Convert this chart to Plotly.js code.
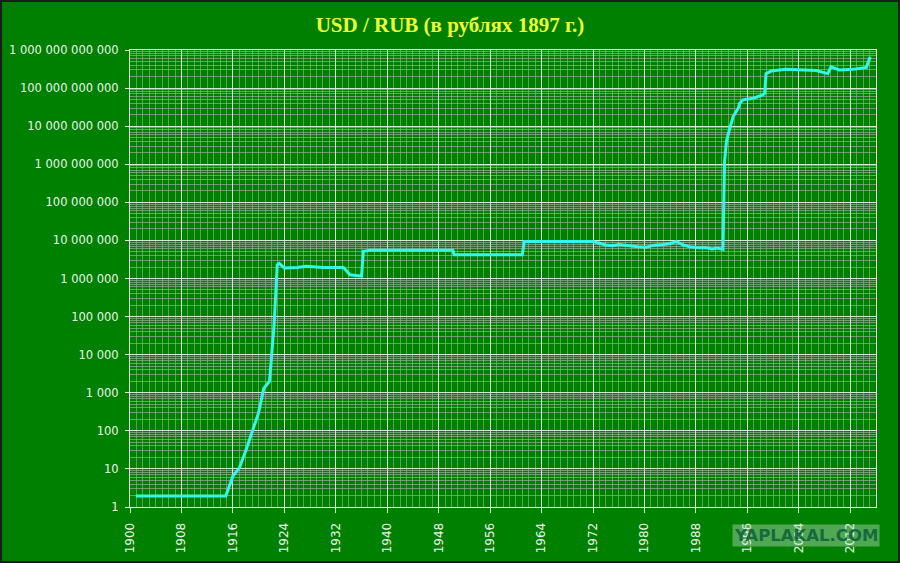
<!DOCTYPE html>
<html>
<head>
<meta charset="utf-8">
<script src="https://cdn.plot.ly/plotly-3.0.1.min.js"></script>
<style>
  html, body { margin: 0; padding: 0; background: #008000; }
  #wrap { position: relative; width: 900px; height: 563px; }
  #chart { width: 900px; height: 563px; }
  #frame { position: absolute; left: 0; top: 0; width: 900px; height: 563px; box-sizing: border-box; border: 2px solid #1c1c1c; pointer-events: none; }
</style>
</head>
<body>
<div id="wrap">
  <div id="chart"></div>
  <div id="frame"></div>
</div>
<script>
// Years (fractional) and USD/RUB rate expressed in 1897 roubles
const years = [
  1900.9, 1914.9, 1916.0, 1917.0, 1918.0, 1919.0, 1920.0, 1920.8, 1921.7,
  1922.4, 1922.9, 1923.2, 1924.0, 1926.0, 1927.4, 1930.0, 1933.2, 1934.2,
  1936.0, 1936.3, 1937.3, 1950.2, 1950.4, 1961.0, 1961.3, 1972.0, 1973.0,
  1974.0, 1975.0, 1976.0, 1977.0, 1978.2, 1979.0, 1980.3, 1981.5, 1983.0,
  1984.0, 1985.0, 1986.0, 1987.0, 1988.5, 1989.5, 1990.5, 1991.3, 1992.2,
  1992.45, 1992.75, 1993.2, 1993.8, 1994.6, 1994.8, 1995.3, 1996.9, 1998.4,
  1998.7, 1998.9, 1999.7, 2002.0, 2004.1, 2006.7, 2008.5, 2009.0, 2010.3,
  2012.4, 2014.5, 2015.1
];
const rate = [
  1.94, 1.94, 6.5, 10.5, 30, 90, 300, 1300, 2000,
  60000, 2.3e6, 2.5e6, 1.9e6, 1.95e6, 2.1e6, 1.95e6, 1.95e6, 1.25e6,
  1.15e6, 5.2e6, 5.5e6, 5.5e6, 4.2e6, 4.2e6, 9.3e6, 9.3e6, 8.3e6,
  7.6e6, 7.3e6, 7.8e6, 7.5e6, 7.0e6, 6.8e6, 6.6e6, 7.5e6, 7.8e6,
  8.3e6, 9.3e6, 7.6e6, 6.8e6, 6.4e6, 6.5e6, 6.0e6, 6.3e6, 5.8e6,
  1.2e9, 4e9, 8e9, 1.8e10, 3e10, 4e10, 4.9e10, 5.4e10, 6.6e10,
  7.3e10, 2.4e11, 2.8e11, 3.1e11, 3.0e11, 2.9e11, 2.4e11, 3.6e11, 3.0e11,
  3.1e11, 3.5e11, 6.6e11
];
const yTickVals = [1, 10, 100, 1e3, 1e4, 1e5, 1e6, 1e7, 1e8, 1e9, 1e10, 1e11, 1e12];
const yTickText = [
  "1", "10", "100", "1 000", "10 000", "100 000", "1 000 000", "10 000 000",
  "100 000 000", "1 000 000 000", "10 000 000 000", "100 000 000 000",
  "1 000 000 000 000"
];
const xTickVals = [1900, 1908, 1916, 1924, 1932, 1940, 1948, 1956, 1964, 1972, 1980, 1988, 1996, 2004, 2012];
const xTickText = xTickVals.map(String);

const yTickFont = { family: "DejaVu Sans, Verdana, sans-serif", size: 11.5, color: "#eaf5ea" };
const xTickFont = { family: "DejaVu Sans, Verdana, sans-serif", size: 12, color: "#eaf5ea" };

const trace = {
  x: years, y: rate, type: "scatter", mode: "lines",
  line: { color: "#33f7e8", width: 3 },
  hoverinfo: "x+y"
};

const layout = {
  width: 900, height: 563,
  paper_bgcolor: "#008000", plot_bgcolor: "#008000",
  margin: { l: 130, r: 24, t: 50, b: 56, pad: 0 },
  showlegend: false,
  title: {
    text: "<b>USD / RUB (в рублях 1897 г.)</b>",
    font: { family: "Liberation Serif, Times New Roman, serif", size: 21, color: "#eeff33" },
    xref: "container", x: 0.5, xanchor: "center",
    yref: "container", y: 0.957, yanchor: "middle"
  },
  xaxis: {
    range: [1900, 2016],
    tickmode: "array", tickvals: xTickVals, ticktext: xTickText,
    tickangle: -90, tickfont: xTickFont, ticklabelstandoff: 5,
    ticks: "outside", ticklen: 5, tickcolor: "#dfeedf", tickwidth: 1,
    showgrid: true, gridcolor: "#d6e8d6", gridwidth: 1,
    minor: { dtick: 1, showgrid: true, gridcolor: "rgba(200,225,200,0.42)", gridwidth: 1, ticks: "" },
    showline: true, mirror: true, linecolor: "#dfeedf", linewidth: 1,
    zeroline: false, fixedrange: true
  },
  yaxis: {
    type: "log", range: [0, 12],
    tickmode: "array", tickvals: yTickVals, ticktext: yTickText,
    tickfont: yTickFont, ticklabelstandoff: 4,
    ticks: "outside", ticklen: 4, tickcolor: "#dfeedf", tickwidth: 1,
    showgrid: true, gridcolor: "#d6e8d6", gridwidth: 1,
    minor: { dtick: "D1", showgrid: true, gridcolor: "rgba(160,165,160,0.7)", gridwidth: 1, ticks: "" },
    showline: true, mirror: true, linecolor: "#dfeedf", linewidth: 1,
    zeroline: false, fixedrange: true
  },
  annotations: [{
    text: "<b>YAPLAKAL.COM</b>",
    xref: "paper", yref: "paper", x: 1.005, y: -0.038, xanchor: "right", yanchor: "top",
    showarrow: false,
    font: { family: "DejaVu Sans, sans-serif", size: 16.5, color: "rgba(15,100,60,0.92)" },
    bgcolor: "rgba(190,225,195,0.42)", borderpad: 1
  }]
};

Plotly.newPlot("chart", [trace], layout, { displayModeBar: false, staticPlot: true });
</script>
</body>
</html>
